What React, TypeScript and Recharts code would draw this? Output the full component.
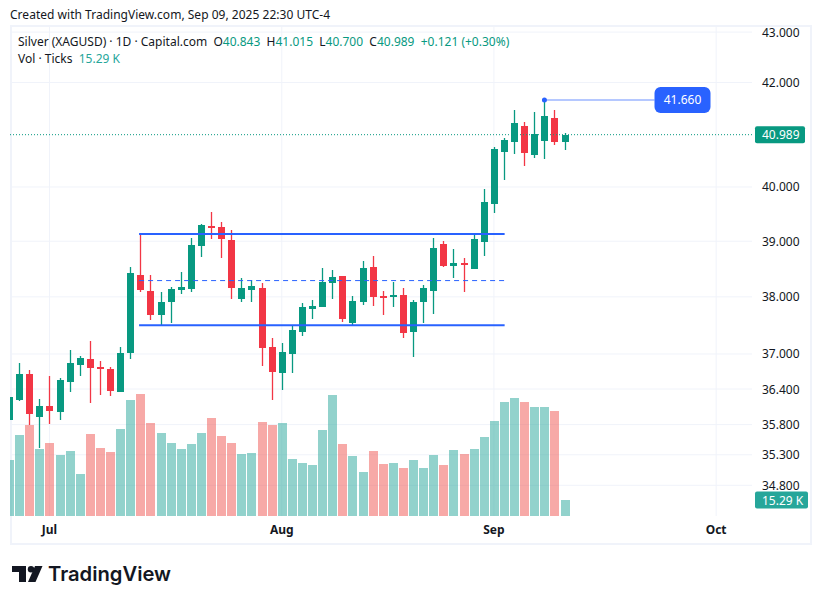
import React from "react";
import {
  Bar,
  CartesianGrid,
  ComposedChart,
  ReferenceDot,
  ReferenceLine,
  XAxis,
  YAxis,
} from "recharts";

const opens = [
  35.88, 36.216, 36.659, 35.929, 36.114, 36.012, 36.523, 36.813, 36.915, 36.778, 36.744, 36.352, 37.018, 38.393,
  38.106, 37.683, 37.911, 38.124, 38.142, 38.914, 39.28, 39.262, 39.022, 37.963, 38.124, 38.16, 37.123, 36.676,
  37.0, 37.385, 37.788, 37.823, 38.25, 38.375, 37.543, 37.911, 38.537, 38.016, 37.998, 38.034, 37.385, 37.911,
  38.106, 38.95, 38.555, 38.609, 38.501, 38.986, 39.686, 40.66, 40.85, 41.157, 40.604, 40.869, 41.312, 40.843,
];
const highs = [
  36.27, 36.847, 36.727, 36.238, 36.625, 36.591, 37.07, 36.966, 37.228, 36.881, 36.778, 37.123, 38.537, 39.133,
  38.393, 38.088, 38.178, 38.447, 39.059, 39.317, 39.539, 39.354, 39.207, 38.339, 38.304, 38.25, 37.28, 37.193,
  37.508, 37.893, 37.946, 38.519, 38.483, 38.375, 38.016, 38.644, 38.734, 38.106, 38.268, 38.16, 37.946, 38.214,
  39.059, 39.004, 38.86, 38.698, 39.114, 39.963, 40.755, 40.926, 41.467, 41.235, 41.428, 41.66, 41.467, 41.015,
];
const lows = [
  35.88, 36.2, 35.796, 35.42, 35.81, 35.879, 36.352, 36.625, 36.165, 36.301, 36.284, 36.352, 36.915, 38.088,
  37.596, 37.508, 37.543, 38.052, 38.088, 38.716, 39.04, 38.698, 37.963, 37.911, 37.911, 36.796, 36.216, 36.387,
  36.676, 37.315, 37.613, 37.823, 37.963, 37.56, 37.508, 37.858, 37.841, 37.683, 37.823, 37.28, 36.949, 37.543,
  37.701, 38.537, 38.339, 38.088, 38.501, 38.734, 39.52, 40.13, 40.622, 40.395, 40.547, 40.528, 40.793, 40.7,
];
const closes = [
  36.27, 36.659, 35.98, 36.114, 36.029, 36.557, 36.847, 36.932, 36.761, 36.744, 36.37, 37.018, 38.429, 38.124,
  37.683, 37.911, 38.142, 38.178, 38.932, 39.299, 39.244, 39.04, 38.16, 38.16, 38.196, 37.105, 36.693, 37.035,
  37.42, 37.823, 37.841, 38.269, 38.357, 37.613, 37.928, 38.519, 37.998, 37.998, 38.034, 37.368, 37.911, 38.16,
  38.878, 38.555, 38.609, 38.591, 39.04, 39.723, 40.718, 40.888, 41.215, 40.641, 41.002, 41.351, 40.85, 40.989,
];
// thousands of ticks
const volumes = [
  53.5, 77.4, 87, 64, 69.8, 58.3, 62.1, 40.2, 78.4, 65, 61.2, 83.2, 110.9, 116.6,
  88.9, 79.3, 69.8, 64, 68.8, 79.3, 93.7, 76.5, 69.8, 59.3, 60.2, 89.9, 87, 88.9,
  54.5, 50.7, 48.8, 82.2, 115.7, 68.8, 57.4, 42.1, 62.1, 49.7, 50.7, 45.9, 53.5, 45.9,
  58.3, 48.8, 63.1, 59.3, 64, 75.5, 90.8, 109, 112.8, 109, 104.2, 104.2, 100.4, 15.29,
];

const priceTicks = [34.8, 35.3, 35.8, 36.4, 37, 38, 39, 40, 42, 43];
const lastPrice = 40.989;
const lastVolume = 15.29;
const pivotHigh = 41.66;
const rangeTop = 39.13;
const rangeMid = 38.29;
const rangeBottom = 37.5;
const monthTicks = [4, 27, 48, 70];
const monthLabels = ["Jul", "Aug", "Sep", "Oct"];

const data = opens.map((open, i) => ({
  i,
  range: [lows[i], highs[i]],
  body: [Math.min(open, closes[i]), Math.max(open, closes[i])],
  volume: volumes[i],
  up: closes[i] >= open,
}));

const UP = "#089981";
const DOWN = "#F23645";
const BLUE = "#2962FF";
const GRID = "#F0F3FA";
const TEXT = "#131722";
const FONT = "'Noto Sans', sans-serif";
const X_DOMAIN: [number, number] = [0.09, 73.55];
// ticks of the hidden axes: 10 bars = 101px, so recharts' rounded bar offset lands dead centre
const BAND_TICKS = [0, 10];

// candles are snapped to whole pixels, the way the original canvas draws them
const bodyLeft = (p: any) => Math.round(p.x + p.width / 2 - 3.5);

const Body = (p: any) => {
  const top = Math.round(p.y);
  const bottom = Math.round(p.y + p.height);
  return <rect x={bodyLeft(p)} y={top} width={7} height={Math.max(bottom - top, 2)} fill={p.payload.up ? UP : DOWN} />;
};

const Wick = (p: any) => (
  <rect x={bodyLeft(p) + 2.85} y={Math.round(p.y)} width={1.3} height={Math.round(p.height)} fill={p.payload.up ? UP : DOWN} />
);

const VolumeBar = (p: any) => {
  const top = Math.round(p.y);
  return (
    <rect
      x={Math.round(p.x)}
      y={top}
      width={p.width}
      height={Math.round(p.y + p.height) - top}
      fill={p.payload.up ? "#26A69A" : "#EF5350"}
      fillOpacity={0.5}
    />
  );
};

const PriceTick = (p: any) => {
  const v = p.payload.value;
  if (v === lastPrice) {
    return (
      <g>
        <rect x={755} y={p.y - 8.5} width={50} height={17} rx={2} fill={UP} />
        <text x={762} y={p.y + 4.5} fontSize={12} fontFamily={FONT} fill="#fff">
          {v.toFixed(3)}
        </text>
      </g>
    );
  }
  return (
    <text x={762} y={p.y + 4.5} fontSize={12} fontFamily={FONT} fill={TEXT}>
      {v.toFixed(3)}
    </text>
  );
};

const VolumeTick = (p: any) => (
  <g>
    <rect x={755} y={p.y - 8.5} width={53} height={17} rx={2} fill="#26A69A" />
    <text x={762} y={p.y + 4.5} fontSize={12} fontFamily={FONT} fill="#fff">
      {p.payload.value.toFixed(2)} K
    </text>
  </g>
);

const PivotLabel = (p: any) => (
  <g>
    <rect x={p.cx - 28} y={p.cy - 13} width={56} height={26} rx={6} fill={BLUE} />
    <text x={p.cx} y={p.cy + 4.5} textAnchor="middle" fontSize={12} fontFamily={FONT} fill="#fff">
      {pivotHigh.toFixed(3)}
    </text>
  </g>
);

const Logo = () => (
  <svg width={36} height={18} viewBox="0 0 36 18" style={{ position: "absolute", left: 12, top: 566 }}>
    <path d="M0 0h14v16H7V6H0z" fill={TEXT} />
    <circle cx={19} cy={3.2} r={3.2} fill={TEXT} />
    <path d="M23 0h7.5L23.5 16H16z" fill={TEXT} />
  </svg>
);

const G = ({ children }: { children: React.ReactNode }) => <span style={{ color: UP }}>{children}</span>;

export default function App() {
  return (
    <div style={{ position: "fixed", left: 0, top: 0, width: 822, height: 604, background: "#fff", fontFamily: FONT, color: TEXT }}>
      <div style={{ position: "absolute", left: 10, top: 7, fontSize: 12, lineHeight: "16px", whiteSpace: "nowrap", letterSpacing: 0.02 }}>
        Created with TradingView.com, Sep 09, 2025 22:30 UTC-4
      </div>
      <div style={{ position: "absolute", left: 10, top: 25, width: 798, height: 516, border: `2px solid ${GRID}` }} />
      <ComposedChart
        width={822}
        height={604}
        data={data}
        margin={{ top: 27, right: 10, bottom: 60, left: 10 }}
        style={{ position: "absolute", left: 0, top: 0 }}
      >
        <CartesianGrid
          xAxisId="x"
          yAxisId="price"
          stroke={GRID}
          strokeWidth={1}
          horizontalValues={priceTicks}
          verticalValues={monthTicks}
        />
        <XAxis
          xAxisId="x"
          dataKey="i"
          type="number"
          domain={X_DOMAIN}
          allowDataOverflow
          ticks={monthTicks}
          interval={0}
          height={28}
          axisLine={false}
          tickLine={false}
          tickMargin={3}
          tick={{ fontSize: 12, fontWeight: 700, fill: TEXT, fontFamily: FONT }}
          tickFormatter={(v: number) => monthLabels[monthTicks.indexOf(v)]}
        />
        <XAxis xAxisId="wick" dataKey="i" type="number" domain={X_DOMAIN} ticks={BAND_TICKS} allowDataOverflow hide height={0} />
        <XAxis xAxisId="body" dataKey="i" type="number" domain={X_DOMAIN} ticks={BAND_TICKS} allowDataOverflow hide height={0} />
        <YAxis
          yAxisId="price"
          orientation="right"
          scale="log"
          domain={[34.305, 43.102]}
          allowDataOverflow
          ticks={[...priceTicks, lastPrice]}
          interval={0}
          width={60}
          axisLine={false}
          tickLine={false}
          tick={PriceTick}
        />
        <YAxis
          yAxisId="vol"
          orientation="left"
          mirror
          domain={[0, 467.5]}
          allowDataOverflow
          ticks={[lastVolume]}
          interval={0}
          width={1}
          axisLine={false}
          tickLine={false}
          tick={VolumeTick}
        />
        <Bar xAxisId="x" yAxisId="vol" dataKey="volume" barSize={9} shape={VolumeBar} isAnimationActive={false} />
        <ReferenceLine
          xAxisId="x"
          yAxisId="price"
          y={lastPrice}
          stroke={UP}
          strokeWidth={1}
          strokeDasharray="1 2"
        />
        <Bar xAxisId="wick" yAxisId="price" dataKey="range" barSize={1} shape={Wick} isAnimationActive={false} />
        <Bar xAxisId="body" yAxisId="price" dataKey="body" barSize={7} shape={Body} isAnimationActive={false} />
        <ReferenceLine
          xAxisId="x"
          yAxisId="price"
          segment={[{ x: 12.87, y: rangeTop }, { x: 49.06, y: rangeTop }]}
          stroke={BLUE}
          strokeWidth={2}
        />
        <ReferenceLine
          xAxisId="x"
          yAxisId="price"
          segment={[{ x: 12.87, y: rangeMid }, { x: 49.06, y: rangeMid }]}
          stroke={BLUE}
          strokeWidth={1}
          strokeDasharray="5 4"
        />
        <ReferenceLine
          xAxisId="x"
          yAxisId="price"
          segment={[{ x: 12.87, y: rangeBottom }, { x: 49.06, y: rangeBottom }]}
          stroke={BLUE}
          strokeWidth={2}
        />
        <ReferenceLine
          xAxisId="x"
          yAxisId="price"
          segment={[{ x: 53, y: pivotHigh }, { x: 63.9, y: pivotHigh }]}
          stroke="#9DB6FF"
          strokeWidth={1.5}
        />
        <ReferenceDot xAxisId="x" yAxisId="price" x={53} y={pivotHigh} r={2.5} fill={BLUE} stroke="none" />
        <ReferenceDot xAxisId="x" yAxisId="price" x={66.67} y={pivotHigh} shape={PivotLabel} />
      </ComposedChart>
      <div style={{ position: "absolute", left: 18, top: 34, fontSize: 12, lineHeight: "16px", whiteSpace: "nowrap" }}>
        Silver (XAGUSD) · 1D · Capital.com&nbsp;&nbsp;O<G>40.843</G>&nbsp;&nbsp;H<G>41.015</G>&nbsp;&nbsp;L<G>40.700</G>
        &nbsp;&nbsp;C<G>40.989</G>&nbsp;&nbsp;<G>+0.121 (+0.30%)</G>
      </div>
      <div style={{ position: "absolute", left: 18, top: 51, fontSize: 12, lineHeight: "16px", whiteSpace: "nowrap" }}>
        Vol · Ticks&nbsp;&nbsp;<span style={{ color: "#26A69A" }}>15.29 K</span>
      </div>
      <Logo />
      <div
        style={{
          position: "absolute",
          left: 48,
          top: 560,
          fontFamily: "Inter, sans-serif",
          fontSize: 20.2,
          fontWeight: 600,
          lineHeight: "28px",
          whiteSpace: "nowrap",
        }}
      >
        TradingView
      </div>
    </div>
  );
}
